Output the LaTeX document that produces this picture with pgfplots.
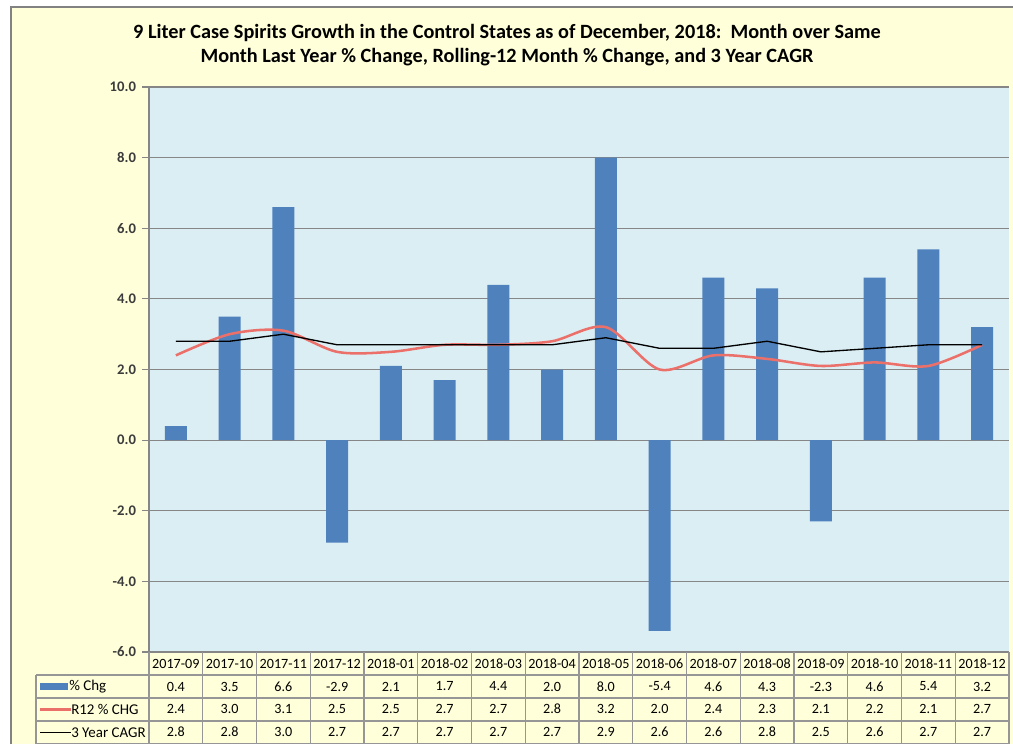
\documentclass[border=0pt]{standalone}
\usepackage{pgfplots}
\pgfplotsset{compat=1.18}
\usepackage{pgfplotstable}
\usepackage{fontspec}
\setmainfont{Carlito}
\definecolor{chartbg}{RGB}{255,255,218}
\definecolor{plotbg}{RGB}{219,238,244}
\definecolor{barblue}{RGB}{79,129,189}
\definecolor{r12red}{RGB}{236,112,106}
\definecolor{gridgray}{RGB}{134,134,134}
\definecolor{tablegray}{RGB}{150,150,150}
\definecolor{bordergray}{RGB}{130,130,130}
\definecolor{ticktext}{RGB}{60,60,60}
\newcommand{\tablefont}{\fontsize{10.6}{12}\selectfont}
\newcommand{\labelfont}{\fontsize{11.2}{12}\selectfont}

\pgfplotstableread{
x month pct r12 cagr
0 2017-09 0.4 2.4 2.8
1 2017-10 3.5 3.0 2.8
2 2017-11 6.6 3.1 3.0
3 2017-12 -2.9 2.5 2.7
4 2018-01 2.1 2.5 2.7
5 2018-02 1.7 2.7 2.7
6 2018-03 4.4 2.7 2.7
7 2018-04 2.0 2.8 2.7
8 2018-05 8.0 3.2 2.9
9 2018-06 -5.4 2.0 2.6
10 2018-07 4.6 2.4 2.6
11 2018-08 4.3 2.3 2.8
12 2018-09 -2.3 2.1 2.5
13 2018-10 4.6 2.2 2.6
14 2018-11 5.4 2.1 2.7
15 2018-12 3.2 2.7 2.7
}\datatable

\pgfplotsset{
  rowtext/.style={only marks, mark=*, mark size=0pt, mark options={draw=none,fill=none},
    point meta=explicit symbolic, nodes near coords,
    every node near coord/.append style={anchor=center, font=\tablefont, text=black, inner sep=0pt}},
}

\begin{document}
\begin{tikzpicture}
\begin{scope}[x=0.75pt, y=-0.75pt]
  \useasboundingbox (0,0) rectangle (1013,744);
  \fill[white] (0,0) rectangle (1013,744);
  \fill[chartbg] (11,7) rectangle (1013,744);
  \draw[bordergray, line width=1pt] (11,744) -- (11,7) -- (1013,7);
  \node[font=\fontsize{15.2}{18}\selectfont\bfseries, align=center] at (507,45)
    {9 Liter Case Spirits Growth in the Control States as of December, 2018:\ \ Month over Same\\
     Month Last Year \% Change, Rolling-12 Month \% Change, and 3 Year CAGR};
\end{scope}

\begin{axis}[
  at={(111.75pt,-489pt)}, anchor=south west,
  scale only axis, width=645pt, height=423.75pt,
  xmin=-0.5, xmax=15.5, ymin=-6, ymax=10,
  clip=false,
  ytick={-6,-4,...,10},
  xtick=\empty,
  axis lines*=left,
  axis line style={gridgray, line width=0.9pt},
  ymajorgrids, grid style={gridgray, line width=0.9pt},
  tick align=outside, major tick length=5.25pt,
  tick style={gridgray, line width=0.9pt},
  axis background/.style={fill=plotbg},
  yticklabel style={font=\fontsize{11}{12}\selectfont\bfseries, text=ticktext, xshift=-1pt,
    /pgf/number format/.cd, fixed, fixed zerofill, precision=1, assume math mode=true},
]
\addplot[ybar, bar width=16.5pt, fill=barblue, draw=none] table[x=x, y=pct]{\datatable};
\addplot[smooth, r12red, line width=1.9pt, mark=none] table[x=x, y=r12]{\datatable};
\addplot[black, line width=1pt, mark=none] table[x=x, y=cagr]{\datatable};
% data table rows
\addplot[rowtext] table[x=x, y expr=-6.326, meta=month]{\datatable};
\addplot[rowtext] table[x=x, y expr=-6.977, meta=pct]{\datatable};
\addplot[rowtext] table[x=x, y expr=-7.614, meta=r12]{\datatable};
\addplot[rowtext] table[x=x, y expr=-8.265, meta=cagr]{\datatable};
\end{axis}

\begin{scope}[x=0.75pt, y=-0.75pt]
  \foreach \k in {0,...,16} {
    \draw[tablegray, line width=1.1pt] ({149+\k*53.75},652) -- ({149+\k*53.75},744);
  }
  \draw[tablegray, line width=1.1pt] (36,675) -- (36,744);
  \foreach \yy in {675,698,721} {
    \draw[tablegray, line width=1.1pt] (36,\yy) -- (1009,\yy);
  }
  \draw[tablegray, line width=1.1pt] (36,743.3) -- (1009,743.3);
  % legend icons and labels
  \fill[barblue] (40,683) rectangle (68,690);
  \node[anchor=west, font=\labelfont, inner sep=0pt] at (69,686.5) {\% Chg};
  \draw[r12red, line width=1.9pt] (40,709.5) -- (71,709.5);
  \node[anchor=west, font=\labelfont, inner sep=0pt] at (71,709.5) {R12 \% CHG};
  \draw[black, line width=1pt] (40,732.5) -- (71,732.5);
  \node[anchor=west, font=\labelfont, inner sep=0pt] at (71,732.5) {3 Year CAGR};
\end{scope}
\end{tikzpicture}
\end{document}
